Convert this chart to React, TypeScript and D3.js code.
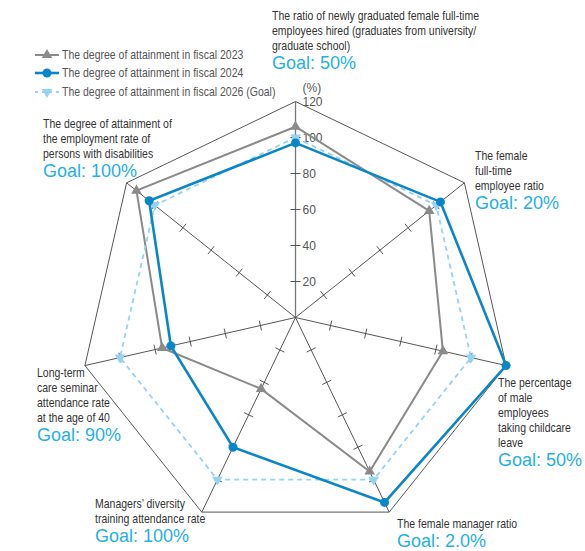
import React, { useEffect, useRef } from "react";
import * as d3 from "d3";

// axis labels (clockwise from top)
const axisLabels: string[][] = [
  ["The ratio of newly graduated female full-time", "employees hired (graduates from university/", "graduate school)"],
  ["The female", "full-time", "employee ratio"],
  ["The percentage", "of male", "employees", "taking childcare", "leave"],
  ["The female manager ratio"],
  ["Managers’ diversity", "training attendance rate"],
  ["Long-term", "care seminar", "attendance rate", "at the age of 40"],
  ["The degree of attainment of", "the employment rate of", "persons with disabilities"],
];
const goalLabels = ["Goal: 50%", "Goal: 20%", "Goal: 50%", "Goal: 2.0%", "Goal: 100%", "Goal: 90%", "Goal: 100%"];

const fy2023 = [106, 95, 84, 95, 44, 76, 113];
const fy2024 = [97, 103, 120, 114, 80, 71, 104];
const fy2026Goal = [100, 100, 100, 100, 100, 100, 100];

const tickValues = [20, 40, 60, 80, 100];
const legendNames = [
  "The degree of attainment in fiscal 2023",
  "The degree of attainment in fiscal 2024",
  "The degree of attainment in fiscal 2026 (Goal)",
];

// where each label block starts (first baseline)
const labelPos = [
  { x: 272, y: 20 },
  { x: 475, y: 160 },
  { x: 498, y: 387 },
  { x: 397, y: 528 },
  { x: 95, y: 508 },
  { x: 37, y: 377 },
  { x: 43, y: 128 },
];

const font = "'Liberation Sans', Arial, sans-serif";
const squeeze = 0.84; // condensed look

const App = () => {
  const svgRef = useRef<SVGSVGElement>(null);

  useEffect(() => {
    const w = 585;
    const h = 551;
    const cx = 295.5;
    const cy = 317.5;
    const svg = d3.select(svgRef.current).attr("width", w).attr("height", h);
    svg.selectAll("*").remove();

    const n = axisLabels.length;
    const r = d3.scaleLinear().domain([0, 120]).range([0, 216]);
    const angle = (i: number) => (i * 2 * Math.PI) / n;
    const pt = (i: number, v: number): [number, number] => [
      cx + r(v) * Math.sin(angle(i)),
      cy - r(v) * Math.cos(angle(i)),
    ];

    const g = svg.append("g");

    const narrowText = (sel: any, x: number, y: number, txt: string, fill: string, dy?: string) =>
      sel.append("text")
        .attr("transform", `translate(${x},${y}) scale(${squeeze},1)`)
        .attr("dy", dy || null)
        .attr("font-family", font).attr("font-size", 12.5).attr("fill", fill)
        .text(txt);

    // outer frame
    const frame = d3.range(n).map((i) => pt(i, 120));
    g.append("path")
      .attr("d", d3.line()([...frame, frame[0]]))
      .attr("fill", "none")
      .attr("stroke", "#444")
      .attr("stroke-width", 0.9);

    // spokes + ticks
    d3.range(n).forEach((i) => {
      const [x2, y2] = pt(i, 120);
      g.append("line")
        .attr("x1", cx).attr("y1", cy).attr("x2", x2).attr("y2", y2)
        .attr("stroke", i === 0 ? "#777" : "#444")
        .attr("stroke-width", i === 0 ? 1.3 : 0.9);
      const a = angle(i);
      const px = Math.cos(a) * 5;
      const py = Math.sin(a) * 5;
      tickValues.forEach((t) => {
        const [tx, ty] = pt(i, t);
        g.append("line")
          .attr("x1", tx - px).attr("y1", ty - py)
          .attr("x2", tx + px).attr("y2", ty + py)
          .attr("stroke", "#444")
          .attr("stroke-width", 0.9);
      });
    });

    // tick labels on the top axis
    [...tickValues, 120].forEach((t) => {
      const [tx, ty] = pt(0, t);
      g.append("text")
        .attr("x", tx + 7).attr("y", ty).attr("dy", "0.35em")
        .attr("font-family", font).attr("font-size", 12).attr("fill", "#555")
        .text(t);
    });
    g.append("text")
      .attr("x", cx + 7).attr("y", pt(0, 120)[1] - 10)
      .attr("font-family", font).attr("font-size", 12).attr("fill", "#555")
      .text("(%)");

    const series = [
      { values: fy2023, color: "#8a8a8a", width: 2, dash: null, marker: "up", row: 0 },
      { values: fy2026Goal, color: "#94d4f2", width: 1.8, dash: "5,4", marker: "down", row: 2 },
      { values: fy2024, color: "#0a86c8", width: 2.6, dash: null, marker: "circle", row: 1 },
    ];

    const tri = d3.symbol().type(d3.symbolTriangle).size(48);

    series.forEach((s) => {
      const pts = s.values.map((v, i) => pt(i, v));
      g.append("path")
        .attr("d", d3.line()([...pts, pts[0]]))
        .attr("fill", "none")
        .attr("stroke", s.color)
        .attr("stroke-width", s.width)
        .attr("stroke-linejoin", "miter")
        .attr("stroke-dasharray", s.dash);
      pts.forEach(([x, y]) => {
        if (s.marker === "circle") {
          g.append("circle").attr("cx", x).attr("cy", y).attr("r", 4.5).attr("fill", s.color);
        } else {
          g.append("path")
            .attr("d", tri())
            .attr("transform", `translate(${x},${y})${s.marker === "down" ? " rotate(180)" : ""}`)
            .attr("fill", s.color);
        }
      });
    });

    // axis labels
    axisLabels.forEach((lines, i) => {
      const { x, y } = labelPos[i];
      lines.forEach((line, j) => narrowText(g, x, y + j * 15, line, "#333"));
      g.append("text")
        .attr("x", x).attr("y", y + (lines.length - 1) * 15 + 19)
        .attr("font-family", font).attr("font-size", 18).attr("fill", "#1fb0e8")
        .text(goalLabels[i]);
    });

    // legend
    const legend = svg.append("g");
    series.forEach((s) => {
      const ly = [55, 73, 92][s.row];
      legend.append("line")
        .attr("x1", 35).attr("x2", 59).attr("y1", ly).attr("y2", ly)
        .attr("stroke", s.color).attr("stroke-width", s.width)
        .attr("stroke-dasharray", s.dash ? "3,4" : null);
      if (s.marker === "circle") {
        legend.append("circle").attr("cx", 47).attr("cy", ly).attr("r", 4.5).attr("fill", s.color);
      } else {
        legend.append("path")
          .attr("d", tri())
          .attr("transform", `translate(47,${ly})${s.marker === "down" ? " rotate(180)" : ""}`)
          .attr("fill", s.color);
      }
      narrowText(legend, 62, ly, legendNames[s.row], "#555", "0.35em");
    });
  }, []);

  return (
    <div>
      <svg ref={svgRef} style={{ position: "absolute", left: 0, top: 0 }}></svg>
    </div>
  );
};

export default App;
